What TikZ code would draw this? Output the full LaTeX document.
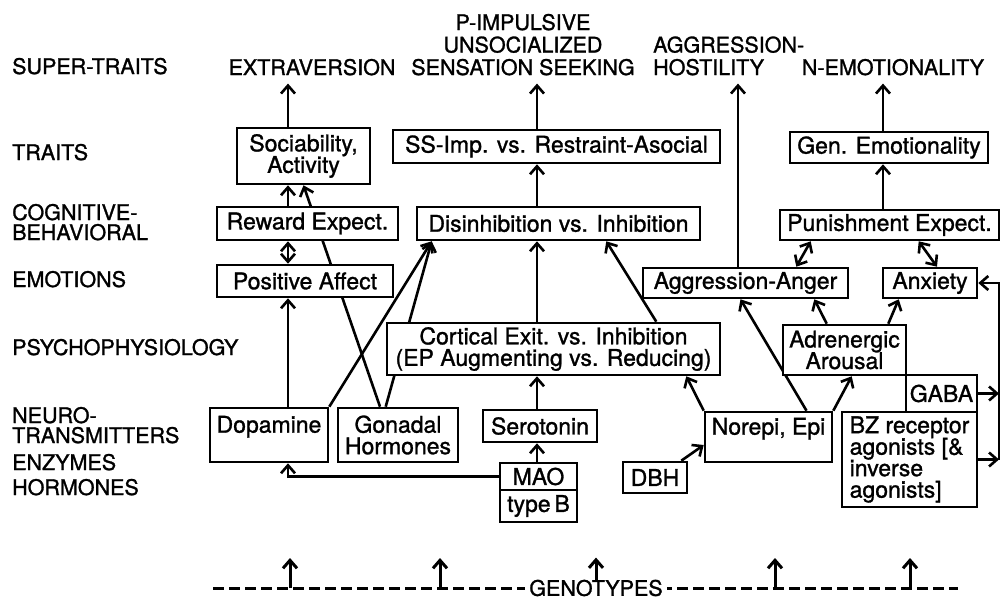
\documentclass[tikz,border=0pt]{standalone}
\usepackage{fontspec}
\setmainfont{TeX Gyre Heros}[FakeBold=1.2]
\usetikzlibrary{arrows.meta,calc,backgrounds}
\lineskiplimit=-10pt

\begin{document}
\begin{tikzpicture}[x=1pt,y=-1pt,>={Straight Barb[length=8pt,width=14pt]},
lvl/.style={anchor=base west,inner sep=0pt,align=left,font=\fontsize{21.5}{20}\selectfont},
sup/.style={anchor=base,inner sep=0pt,align=center,font=\fontsize{21.5}{22.5}\selectfont},
box/.style={draw,fill=white,line width=2.6pt,inner sep=0pt,align=center,font=\fontsize{23}{21.5}\selectfont},
lnk/.style={line width=2.6pt},
up/.style={->,shorten >=8pt}]
\useasboundingbox(0,0)rectangle(1001,600);
\node[lvl](lsup)at(12,74){SUPER-TRAITS};
\node[lvl](ltra)at(12,160){TRAITS};
\node[lvl](lcog)at(12,240){COGNITIVE-\\BEHAVIORAL};
\node[lvl](lemo)at(12,287){EMOTIONS};
\node[lvl](lpsy)at(12,355){PSYCHOPHYSIOLOGY};
\node[lvl](lneu)at(12,443){NEURO-\\TRANSMITTERS};
\node[lvl](lenz)at(12,470){ENZYMES};
\node[lvl](lhor)at(12,495){HORMONES};
\node[sup](ext)at(312,75){EXTRAVERSION};
\node[sup](sss)at(523,75){P-IMPULSIVE\\UNSOCIALIZED\\SENSATION SEEKING};
\node[sup,anchor=base west,align=left](aggh)at(653,75){AGGRESSION-\\HOSTILITY};
\node[sup](nemo)at(893,75){N-EMOTIONALITY};
\node[box,minimum width=133pt,minimum height=56pt](soc)at(303.5,156){Sociability,\\Activity};
\node[box,minimum width=327pt,minimum height=33pt](ss)at(556.5,146.5){SS-Imp. vs. Restraint-Asocial};
\node[box,minimum width=198pt,minimum height=31pt](gen)at(889,147.5){Gen. Emotionality};
\node[box,minimum width=181pt,minimum height=33pt](rew)at(307.5,223.5){Reward Expect.};
\node[box,minimum width=283pt,minimum height=33pt](dis)at(558.5,223.5){Disinhibition vs. Inhibition};
\node[box,minimum width=219pt,minimum height=30pt](pun)at(889.5,225){Punishment Expect.};
\node[box,minimum width=176pt,minimum height=32pt](pos)at(305,281){Positive Affect};
\node[box,minimum width=205pt,minimum height=30pt](agg)at(745.5,283){Aggression-Anger};
\node[box,minimum width=94pt,minimum height=30pt](anx)at(930,283){Anxiety};
\node[box,minimum width=333pt,minimum height=52pt](cort)at(553.5,349){Cortical Exit. vs. Inhibition\\(EP Augmenting vs. Reducing)};
\node[box,minimum width=123pt,minimum height=50pt](adr)at(844.5,350){Adrenergic\\Arousal};
\node[box,minimum width=71pt,minimum height=37pt](gaba)at(941.5,393.5){GABA};
\node[box,minimum width=135pt,minimum height=95pt,align=left](bz)at(909.5,459.5){BZ receptor\\agonists [\&\\inverse\\agonists]};
\node[box,minimum width=118pt,minimum height=54pt](dop)at(269,435){Dopamine\\\mbox{}};
\node[box,minimum width=120pt,minimum height=54pt](gon)at(398,435){Gonadal\\Hormones};
\node[box,minimum width=114pt,minimum height=32pt](ser)at(540,426){Serotonin};
\node[box,minimum width=77pt,minimum height=27pt](mao)at(538.5,476.5){MAO};
\node[box,minimum width=77pt,minimum height=32pt](typb)at(538.5,506){type\,B};
\node[box,minimum width=64pt,minimum height=31pt](dbh)at(655,477.5){DBH};
\node[box,minimum width=127pt,minimum height=50pt](nor)at(768.5,437){Norepi, Epi\\\mbox{}};
\node[sup,anchor=center,fill=white,inner xsep=4pt](geno)at(596,588){GENOTYPES};
\coordinate(colA)at(288,0);
\coordinate(colB)at(537,0);
\coordinate(colC)at(738,0);
\coordinate(colD)at(883,0);
\coordinate(rail)at(999,0);
\coordinate(gl)at(213,588);
\coordinate(gr)at(958,588);
\begin{scope}[on background layer={lnk}]
\draw[up](soc.north-|colA)--(ext.south-|colA);
\draw[up](ss.north-|colB)--(sss.south-|colB);
\draw[up](agg.north-|colC)--(aggh.south-|colC);
\draw[up](gen.north-|colD)--(nemo.south-|colD);
\draw[->](rew.north-|colA)--(soc.south-|colA);
\draw[->]($(gon.north)+(-18,0)$)--(soc.south);
\draw[->](dis.north-|colB)--(ss.south-|colB);
\draw[->](pun.north-|colD)--(gen.south-|colD);
\draw[<->](rew.south-|colA)--(pos.north-|colA);
\draw[->](dop.north-|colA)--(pos.south-|colA);
\draw[->](dop.north east)--($(dis.south west)+(16,0)$);
\draw[->]($(gon.north west)+(49,0)$)--($(dis.south west)+(16,0)$);
\draw[->](cort.north-|colB)--(dis.south-|colB);
\draw[->]($(cort.north east)+(-65,0)$)--($(dis.south east)+(-95,0)$);
\draw[->](ser.north-|colB)--(cort.south-|colB);
\draw[->](mao.north-|colB)--(ser.south-|colB);
\draw[->](mao.west)-|(dop.south-|colA);
\draw[->](nor.north west)--($(cort.south east)+(-35,0)$);
\draw[->]($(nor.north)+(38,0)$)--($(agg.south)+(-5,0)$);
\draw[->](nor.north east)--($(adr.south west)+(70,0)$);
\draw[->]($(dbh.north east)+(-7,0)$)--($(nor.west)+(0,8)$);
\draw[->]($(adr.north west)+(45,0)$)--($(agg.south east)+(-35,0)$);
\draw[->]($(adr.north east)+(-19,0)$)--($(anx.south west)+(17,0)$);
\draw[<->]($(pun.south west)+(32,0)$)--($(agg.north east)+(-53,0)$);
\draw[<->]($(pun.south west)+(140,0)$)--($(anx.north)+(7,0)$);
\draw[->](gaba.east)--(gaba.east-|rail);
\draw[->](bz.east)--(bz.east-|rail);
\draw[->](bz.east-|rail)--(anx.east-|rail)--(anx.east);
\draw[line width=3pt,dash pattern=on 11pt off 5pt](gl)--(gr);
\draw[line width=3pt,->](geno.north)--++(0,-22);
\foreach \x[count=\i] in {290,440,775,910}{
\coordinate(g\i)at(\x,588);
\draw[line width=3pt,->](g\i)--++(0,-30);}
\end{scope}
\end{tikzpicture}
\end{document}
